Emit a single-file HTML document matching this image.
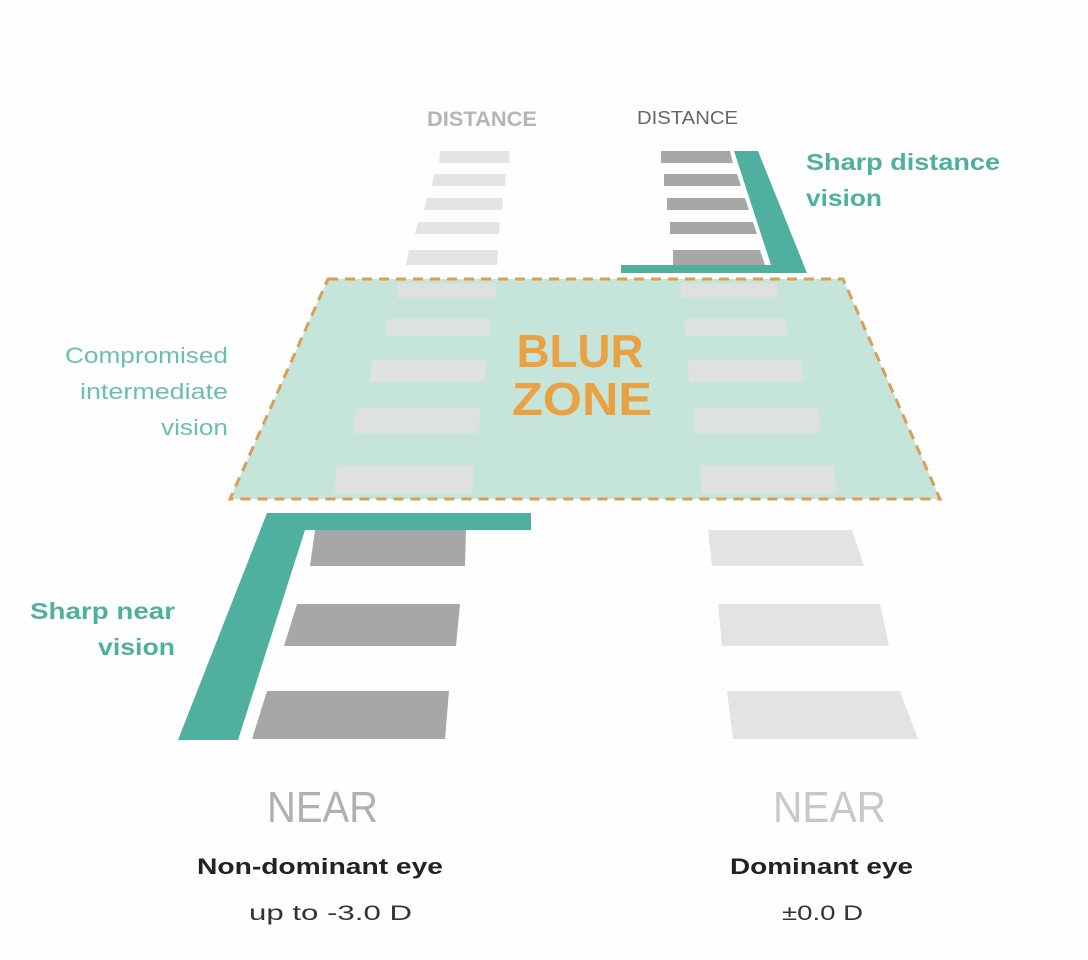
<!DOCTYPE html>
<html><head><meta charset="utf-8"><style>
html,body{margin:0;padding:0;background:#fff;}
svg{display:block;}
text{font-family:"Liberation Sans",sans-serif;}
</style></head><body>
<svg width="1088" height="960" viewBox="0 0 1088 960" xmlns="http://www.w3.org/2000/svg">
<rect width="1088" height="960" fill="#fefefe"/>
<!-- left distance stripes -->
<g fill="#e4e4e4">
<polygon points="440,151 510,151 509,163 439,163"/>
<polygon points="434,174 506,174 505,186 432,186"/>
<polygon points="427,198 503,198 502,210 424,210"/>
<polygon points="418,222 500,222 499,234 415,234"/>
<polygon points="409,250 498,250 497,265 406,265"/>
</g>
<!-- right distance stripes -->
<g fill="#a6a8a8">
<polygon points="661,151 730,151 733,163 661,163"/>
<polygon points="664,174 737,174 741,186 664,186"/>
<polygon points="667,198 745,198 749,210 667,210"/>
<polygon points="670,222 753,222 757,234 670,234"/>
<polygon points="673,250 760,250 765,265 673,265"/>
</g>
<!-- teal L top right -->
<polygon points="734,151 758,151 807,273 621,273 621,265 771,265" fill="#4fb09f"/>
<!-- blur zone -->
<polygon points="328,279 843,279 940,499 230,499" fill="#c5e4da" stroke="#d9a055" stroke-width="3" stroke-dasharray="10,7"/>
<g fill="#e2e2e2" opacity="0.85">
<polygon points="398,283 496,283 496,298 397,298"/>
<polygon points="387,319 491,319 490,336 385,336"/>
<polygon points="372,360 486,360 485,382 370,382"/>
<polygon points="356,408 480,408 479,433 353,433"/>
<polygon points="337,465 474,465 473,493 334,493"/>
<polygon points="680,283 777,283 778,298 681,298"/>
<polygon points="684,319 786,319 788,336 685,336"/>
<polygon points="688,360 801,360 804,382 689,382"/>
<polygon points="693,408 818,408 821,433 694,433"/>
<polygon points="700,465 834,465 837,493 701,493"/>
</g>
<text x="580" y="367" text-anchor="middle" font-size="46" font-weight="bold" fill="#e9a142" textLength="127" lengthAdjust="spacingAndGlyphs">BLUR</text>
<text x="582" y="415" text-anchor="middle" font-size="46" font-weight="bold" fill="#e9a142" textLength="140" lengthAdjust="spacingAndGlyphs">ZONE</text>
<!-- teal L near left -->
<polygon points="267,513 531,513 531,530 305,530 238,740 178,740" fill="#4fb09f"/>
<g fill="#a6a8a8">
<polygon points="315,530 466,530 465,566 310,566"/>
<polygon points="297,604 460,604 456,646 284,646"/>
<polygon points="267,691 449,691 445,739 252,739"/>
</g>
<g fill="#e3e3e3">
<polygon points="708,530 852,530 864,566 712,566"/>
<polygon points="718,604 880,604 889,646 722,646"/>
<polygon points="727,691 900,691 918,739 733,739"/>
</g>
<!-- labels -->
<text x="427" y="126" font-size="21" font-weight="bold" fill="#b5b5b5" textLength="110" lengthAdjust="spacingAndGlyphs">DISTANCE</text>
<text x="637" y="124" font-size="18" fill="#666" textLength="101" lengthAdjust="spacingAndGlyphs">DISTANCE</text>
<text x="806" y="170" font-size="23" font-weight="bold" fill="#4fb09f" textLength="194" lengthAdjust="spacingAndGlyphs">Sharp distance</text>
<text x="806" y="206" font-size="23" font-weight="bold" fill="#4fb09f" textLength="76" lengthAdjust="spacingAndGlyphs">vision</text>
<g font-size="22" fill="#6cbfae" text-anchor="end">
<text x="228" y="363" textLength="163" lengthAdjust="spacingAndGlyphs">Compromised</text>
<text x="228" y="399" textLength="148" lengthAdjust="spacingAndGlyphs">intermediate</text>
<text x="228" y="435" textLength="67" lengthAdjust="spacingAndGlyphs">vision</text>
</g>
<text x="175" y="619" text-anchor="end" font-size="23" font-weight="bold" fill="#4fb09f" textLength="145" lengthAdjust="spacingAndGlyphs">Sharp near</text>
<text x="175" y="655" text-anchor="end" font-size="23" font-weight="bold" fill="#4fb09f" textLength="77" lengthAdjust="spacingAndGlyphs">vision</text>
<text x="267" y="822" font-size="44" fill="#b0b0b0" textLength="111" lengthAdjust="spacingAndGlyphs">NEAR</text>
<text x="773" y="822" font-size="44" fill="#c8c8c8" textLength="113" lengthAdjust="spacingAndGlyphs">NEAR</text>
<text x="197" y="874" font-size="22" font-weight="bold" fill="#222" textLength="246" lengthAdjust="spacingAndGlyphs">Non-dominant eye</text>
<text x="249" y="920" font-size="21" fill="#333" textLength="163" lengthAdjust="spacingAndGlyphs">up to -3.0 D</text>
<text x="730" y="874" font-size="22" font-weight="bold" fill="#222" textLength="183" lengthAdjust="spacingAndGlyphs">Dominant eye</text>
<text x="782" y="920" font-size="21" fill="#333" textLength="81" lengthAdjust="spacingAndGlyphs">±0.0 D</text>
</svg>
</body></html>
